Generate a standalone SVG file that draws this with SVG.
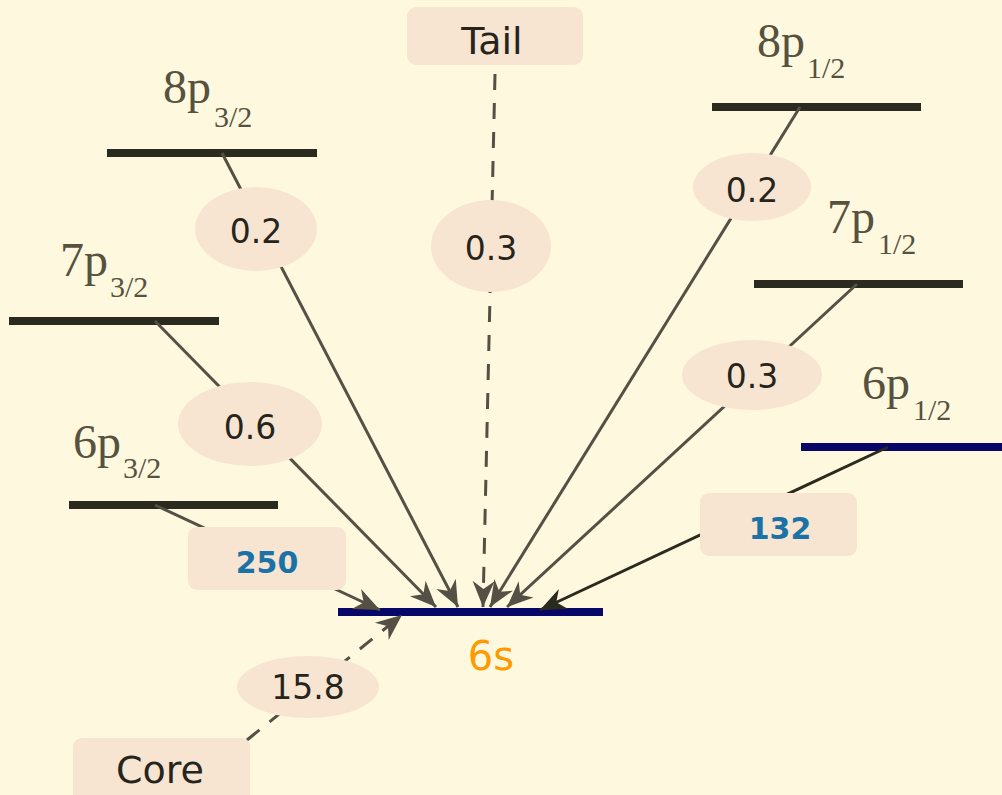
<svg xmlns="http://www.w3.org/2000/svg" width="1002" height="795" viewBox="0 0 1002 795">
<defs>
<style>
.lvl{stroke:#2b2a1e;stroke-width:8}
.lvlb{stroke:#07076a;stroke-width:8}
.lab{font-family:"Liberation Serif",serif;font-size:48px;fill:#57513f}
.sub{font-size:30px}
.con{stroke:#555045;stroke-width:3;fill:none}
.dash{stroke-dasharray:16 13}
.pill{fill:#f7e5d2}
.num{font-family:"DejaVu Sans",sans-serif;font-size:33px;fill:#26251d;text-anchor:middle}
.big{font-family:"DejaVu Sans",sans-serif;font-size:38px;fill:#26251d;text-anchor:middle}
.val{font-family:"DejaVu Sans",sans-serif;font-weight:bold;font-size:30px;fill:#1a72a6;text-anchor:middle}
</style>
<marker id="ah" viewBox="-28 -13 30 26" refX="0" refY="0" markerWidth="30" markerHeight="26" markerUnits="userSpaceOnUse" orient="auto">
<path d="M0,0 L-26,-11 L-18,0 L-26,11 Z" fill="#555045"/>
</marker>
<marker id="ahd" viewBox="-28 -13 30 26" refX="0" refY="0" markerWidth="30" markerHeight="26" markerUnits="userSpaceOnUse" orient="auto">
<path d="M0,0 L-26,-11 L-18,0 L-26,11 Z" fill="#2b2a1e"/>
</marker>
</defs>
<rect width="1002" height="795" fill="#fef9de"/>

<g id="level-8p32"><line class="lvl" x1="107" y1="153" x2="317" y2="153"/><text class="lab" x="163" y="103">8p<tspan class="sub" dx="3" dy="24">3/2</tspan></text></g>
<g id="level-7p32"><line class="lvl" x1="9" y1="321" x2="219" y2="321"/><text class="lab" x="60" y="276">7p<tspan class="sub" dx="2" dy="21">3/2</tspan></text></g>
<g id="level-6p32"><line class="lvl" x1="69" y1="505" x2="278" y2="505"/><text class="lab" x="73" y="458">6p<tspan class="sub" dx="2" dy="20">3/2</tspan></text></g>
<g id="level-8p12"><line class="lvl" x1="712" y1="107" x2="921" y2="107"/><text class="lab" x="757" y="57">8p<tspan class="sub" dx="2" dy="21">1/2</tspan></text></g>
<g id="level-7p12"><line class="lvl" x1="754" y1="284" x2="963" y2="284"/><text class="lab" x="827" y="233">7p<tspan class="sub" dx="3" dy="21">1/2</tspan></text></g>
<g id="level-6p12"><line class="lvlb" x1="801" y1="447" x2="1002" y2="447"/><text class="lab" x="862" y="399">6p<tspan class="sub" dx="3" dy="21">1/2</tspan></text></g>
<g id="level-6s"><line class="lvlb" x1="338" y1="612" x2="603" y2="612"/><text x="491" y="670" style="font-family:'DejaVu Sans',sans-serif;font-size:40px;fill:#ff9900;text-anchor:middle">6s</text></g>

<g id="connectors">
<line class="con" x1="155" y1="505" x2="380" y2="610" marker-end="url(#ah)"/>
<line class="con" x1="155" y1="321" x2="436" y2="607" marker-end="url(#ah)"/>
<line class="con" x1="222" y1="153" x2="458" y2="607" marker-end="url(#ah)"/>
<line class="con dash" x1="495" y1="74" x2="483" y2="607" marker-end="url(#ah)"/>
<line class="con" x1="800" y1="107" x2="490" y2="607" marker-end="url(#ah)"/>
<line class="con" x1="857" y1="284" x2="507" y2="607" marker-end="url(#ah)"/>
<line class="con" x1="888" y1="447" x2="540" y2="610" style="stroke:#2b2a1e" marker-end="url(#ahd)"/>
<line class="con dash" x1="247" y1="740" x2="402" y2="615" marker-end="url(#ah)"/>
</g>

<g id="tail"><rect class="pill" x="407" y="7" width="176" height="58" rx="9"/><text class="big" x="492" y="54">Tail</text></g>
<g id="core"><rect class="pill" x="73" y="738" width="177" height="70" rx="9"/><text class="big" x="160" y="783">Core</text></g>
<g id="w-8p32"><ellipse class="pill" cx="256" cy="229" rx="61" ry="42"/><text class="num" x="256" y="243">0.2</text></g>
<g id="w-7p32"><ellipse class="pill" cx="250" cy="424" rx="72" ry="42"/><text class="num" x="250" y="439">0.6</text></g>
<g id="w-tail"><ellipse class="pill" cx="491" cy="246" rx="60" ry="46"/><text class="num" x="491" y="260">0.3</text></g>
<g id="w-8p12"><ellipse class="pill" cx="752" cy="187" rx="59" ry="34"/><text class="num" x="752" y="202">0.2</text></g>
<g id="w-7p12"><ellipse class="pill" cx="752" cy="375" rx="70" ry="35"/><text class="num" x="752" y="388">0.3</text></g>
<g id="w-core"><ellipse class="pill" cx="308" cy="687" rx="71" ry="31"/><text class="num" x="308" y="699">15.8</text></g>
<g id="v-6p32"><rect class="pill" x="188" y="527" width="158" height="63" rx="9"/><text class="val" x="267" y="573">250</text></g>
<g id="v-6p12"><rect class="pill" x="700" y="493" width="157" height="63" rx="9"/><text class="val" x="780" y="539">132</text></g>
</svg>
